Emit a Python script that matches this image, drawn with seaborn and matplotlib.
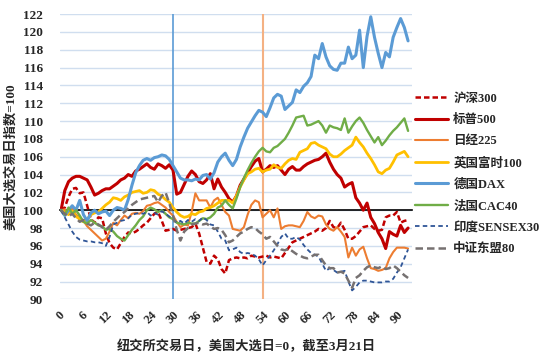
import matplotlib
matplotlib.use('Agg')
import matplotlib.pyplot as plt
import seaborn as sns

days = list(range(94))

hs300 = [100.0, 100.3, 101.5, 102.4, 102.5, 101.9, 102.0, 100.5, 99.0, 98.6,
         99.2, 99.1, 97.4, 96.3, 95.8, 95.6, 96.3, 97.0, 97.5, 97.4,
         97.6, 97.9, 98.3, 98.6, 99.1, 99.6, 99.8, 98.8, 97.7, 97.8,
         97.9, 97.7, 97.8, 97.9, 98.0, 98.1, 98.5, 97.4, 95.8, 94.2,
         94.0, 94.9, 94.5, 93.4, 92.9, 94.4, 94.6, 94.7, 94.6, 94.7,
         94.6, 94.9, 94.8, 94.7, 94.8, 94.9, 94.7, 94.8, 94.7, 94.6,
         95.2, 95.8, 96.4, 96.6, 96.8, 97.0, 97.2, 97.4, 97.6, 97.9,
         97.7, 98.0, 98.8, 98.1, 98.0, 98.6, 97.8, 96.8, 96.8, 97.1,
         97.6, 98.1, 98.2, 98.3, 97.9, 97.7, 97.8, 99.2, 99.4, 99.4,
         99.8, 98.6, 98.8, 98.9]

sp500 = [100.0, 102.2, 103.2, 103.6, 103.8, 103.8, 103.6, 103.4, 102.6, 101.7,
         101.9, 102.2, 102.4, 102.4, 102.7, 103.0, 103.4, 103.6, 104.0, 103.8,
         104.4, 104.6, 104.9, 105.2, 104.8, 104.6, 105.2, 105.0, 104.7, 105.1,
         104.5, 101.8, 102.0, 102.9, 103.8, 104.4, 104.0, 103.2, 103.0, 103.4,
         104.1, 102.4, 103.5, 102.6, 102.0, 101.3, 100.9, 101.6, 102.8, 103.5,
         104.2, 104.9, 105.5, 105.8, 104.3, 104.6, 105.0, 104.8, 105.0, 104.5,
         104.0, 104.6, 104.9, 104.5, 104.5, 104.9, 105.2, 105.4, 105.6, 105.7,
         106.0, 106.4, 105.4, 104.6, 104.0, 103.6, 102.6, 102.9, 103.1, 101.4,
         100.8, 100.0, 100.8, 99.2, 98.5, 97.5, 96.8, 95.7, 97.6, 97.3,
         97.1, 98.3, 97.5, 98.0]

nikkei = [100.0, 100.1, 99.6, 100.2, 99.5, 99.2, 98.8, 98.2, 97.8, 97.4,
          97.0, 96.6, 96.8, 97.6, 98.6, 98.3, 98.9, 99.4, 99.1, 99.6,
          99.7, 99.6, 99.9, 100.5, 100.6, 100.8, 100.9, 100.6, 100.3, 99.8,
          99.4, 98.7, 98.1, 98.4, 98.3, 99.8, 101.9, 101.1, 101.1, 101.1,
          100.3, 101.1, 101.4, 100.6, 99.8, 99.4, 97.9, 97.8, 97.7, 98.1,
          99.5, 100.6, 101.1, 100.9, 99.2, 99.6, 100.0, 99.2, 100.2, 97.9,
          98.2, 98.3, 98.3, 98.2, 98.1, 98.8, 99.8, 99.3, 99.1, 99.4,
          99.3, 98.4, 97.9, 97.7, 98.1, 97.6, 97.0, 94.7, 95.8, 94.9,
          95.6, 95.9, 94.6, 93.5, 93.4, 93.2, 93.3, 93.5, 94.6, 95.3,
          95.8, 95.8, 95.8, 95.7]

ftse100 = [100.0, 99.8, 99.5, 99.9, 99.3, 99.0, 98.7, 99.0, 99.5, 99.7,
           99.8, 100.2, 100.6, 100.9, 101.4, 101.3, 101.1, 101.5, 101.7, 102.0,
           102.1, 102.2, 101.9, 102.0, 102.3, 102.2, 101.8, 101.6, 101.2, 100.9,
           100.3, 99.8, 99.4, 99.2, 99.3, 99.6, 99.5, 99.8, 99.9, 100.2,
           100.3, 100.5, 100.8, 101.1, 101.1, 101.1, 100.8, 101.6, 102.6, 103.4,
           104.1, 104.3, 104.6, 104.7, 104.3, 104.5, 104.6, 105.1, 104.8, 104.7,
           105.2, 105.6, 105.8, 105.7, 106.5, 106.7, 106.9, 107.5, 107.6, 107.3,
           107.1, 106.9, 106.3, 106.0, 106.0, 106.3, 106.7, 107.0, 107.3, 108.2,
           107.6, 107.1, 106.4, 105.8, 105.1, 104.3, 104.1, 104.5, 104.7, 105.4,
           106.2, 106.4, 106.6, 106.0]

dax = [100.0, 99.4, 100.0, 100.5, 100.0, 101.1, 99.5, 98.8, 99.7, 100.0,
       99.6, 99.8, 99.9, 99.4, 100.0, 100.3, 100.2, 100.0, 101.2, 102.8,
       104.2, 105.0, 105.6, 105.8, 105.6, 105.9, 106.0, 106.2, 106.1, 105.7,
       105.0, 104.3, 103.6, 103.4, 103.4, 103.3, 103.5, 103.4, 103.9, 104.0,
       103.5, 104.2, 105.4, 106.0, 106.4, 105.6, 105.0, 105.7, 107.1, 108.2,
       109.2, 109.9, 110.6, 111.2, 111.0, 110.5, 111.5, 112.6, 113.0, 112.8,
       111.3, 111.7, 112.1, 113.5, 113.2, 113.9, 114.3, 115.0, 117.4, 117.0,
       118.7, 117.2, 116.2, 115.8, 115.7, 116.5, 116.5, 118.3, 117.0, 117.4,
       120.2, 116.0, 119.5, 121.7, 119.4, 117.6, 116.0, 117.7, 117.2, 119.4,
       120.5, 121.5, 120.5, 119.0]

cac40 = [100.0, 99.5, 100.3, 99.6, 100.0, 99.4, 98.7, 98.5, 98.9, 98.6,
         98.3, 98.2, 97.8, 97.9, 97.6, 97.1, 96.8, 96.6, 97.2, 97.8,
         98.3, 98.9, 99.3, 100.0, 100.3, 100.1, 99.8, 100.0, 99.6, 99.2,
         99.0, 98.6, 98.5, 98.4, 98.6, 98.5, 98.5, 98.8, 99.1, 99.0,
         99.2, 99.6, 100.3, 100.5, 101.1, 100.6, 100.2, 101.3, 102.6, 103.6,
         104.5, 105.3, 106.0, 106.6, 107.0, 106.6, 106.5, 107.0, 107.2, 107.6,
         108.0, 108.7, 109.5, 110.4, 110.5, 110.6, 109.5, 109.6, 109.8, 110.0,
         109.5, 108.7, 109.5, 109.3, 109.2, 109.0, 110.3, 108.7, 109.4, 110.0,
         110.4, 109.8, 109.0, 108.3, 107.6, 108.2, 107.3, 107.8, 108.4, 108.9,
         109.3, 109.8, 110.3, 108.9]

sensex30 = [100.0, 99.2, 98.4, 97.6, 97.0, 96.7, 96.6, 96.5, 96.5, 96.4,
            96.4, 96.3, 96.0, 97.0, 98.4, 98.6, 98.8, 98.9, 99.1, 99.5,
            99.6, 99.7, 99.6, 99.8, 99.4, 99.7, 99.5, 99.9, 99.6, 99.3,
            99.0, 98.6, 98.8, 98.5, 98.9, 98.7, 99.0, 98.8, 99.2, 98.9,
            98.4, 98.3, 97.6, 96.8, 96.6, 95.5, 95.6, 95.8, 95.3, 95.1,
            95.2, 95.1, 94.9, 94.5, 93.8, 94.4, 94.9, 95.5, 96.2, 97.0,
            97.4, 96.8, 96.8, 97.0, 96.7, 96.1, 95.6, 95.2, 95.0, 94.8,
            94.0, 93.2, 93.5, 93.3, 93.0, 93.1, 93.2, 92.0, 91.0, 91.4,
            91.9, 92.1, 92.1, 92.0, 91.9, 91.9, 91.9, 92.0, 92.0, 92.3,
            93.0, 93.6, 94.6, 95.6]

asean80 = [100.0, 99.6, 99.3, 99.6, 99.1, 98.7, 98.9, 98.5, 98.3, 98.6,
           98.4, 98.1, 97.8, 98.2, 98.7, 99.1, 99.5, 99.8, 100.2, 100.6,
           100.9, 101.2, 101.3, 101.4, 101.5, 101.6, 100.9, 101.6, 102.0, 100.8,
           99.4, 97.8, 96.6, 97.6, 98.0, 98.4, 98.5, 98.6, 98.4, 98.5,
           98.2, 97.9, 98.0, 97.8, 97.2, 96.4, 96.6, 97.0, 97.4, 97.6,
           97.9, 98.1, 98.0, 97.6, 97.3, 96.8, 97.0, 96.5, 96.0, 95.6,
           95.5, 95.7, 95.4, 95.1, 94.9, 94.7, 94.6, 94.8, 95.0, 95.0,
           94.4, 93.8, 93.5, 93.5, 93.0, 93.1, 92.9, 92.1, 91.3, 92.4,
           92.7, 93.2, 93.6, 93.8, 93.6, 93.5, 93.7, 93.4, 93.5, 93.8,
           93.5, 93.1, 92.7, 92.4]

names = ['沪深300', '标普500', '日经225', '英国富时100', '德国DAX',
         '法国CAC40', '印度SENSEX30', '中证东盟80']
series = [hs300, sp500, nikkei, ftse100, dax, cac40, sensex30, asean80]

# styles: color, linewidth, linestyle
styles = [
    ('#C00000', 1.8, (0, (2.2, 1.2))),
    ('#C00000', 2.2, '-'),
    ('#ED7D31', 1.5, '-'),
    ('#FFC000', 2.0, '-'),
    ('#5B9BD5', 2.2, '-'),
    ('#70AD47', 1.7, '-'),
    ('#2F5597', 1.3, (0, (2.5, 1.8))),
    ('#767171', 1.8, (0, (3.0, 1.6))),
]

sns.set_style('white')
plt.rcParams['font.family'] = ['Liberation Serif', 'Noto Sans CJK SC']
plt.rcParams['font.weight'] = 'bold'

fig = plt.figure(figsize=(5.55, 3.53), dpi=100)
ax = fig.add_axes([0.108, 0.152, 0.634, 0.808])

for yv in range(90, 123, 2):
    ax.axhline(yv, color='#D0DEEF', lw=1.0, zorder=0)

ax.axvline(30, color='#5B9BD5', lw=1.2, zorder=1)
ax.axvline(54, color='#F4B183', lw=1.5, zorder=1)

for name, vals, (c, w, ls) in zip(names, series, styles):
    sns.lineplot(x=days, y=vals, ax=ax, color=c, lw=w, linestyle=ls,
                 label=name, zorder=3)

ax.set_xlim(-0.3, 94)
ax.set_ylim(90, 122)
ax.set_yticks(range(90, 123, 2))
ax.tick_params(axis='y', length=0, pad=12, labelsize=9.5)

# category axis crossing at 100 with a tick per trading day
for s in ['top', 'right', 'left']:
    ax.spines[s].set_visible(False)
ax.spines['bottom'].set_position(('data', 100))
ax.spines['bottom'].set_color('black')
ax.spines['bottom'].set_linewidth(1.2)
ax.spines['bottom'].set_zorder(2)
ax.set_xticks(days)
ax.tick_params(axis='x', direction='out', length=3, width=0.8,
               color='black', labelbottom=False)

sec = ax.secondary_xaxis(0.0)
sec.set_xticks(range(0, 91, 6))
sec.tick_params(length=0, pad=7, labelsize=9)
for lab in sec.get_xticklabels():
    lab.set_rotation(45)
sec.spines['bottom'].set_visible(False)
sec.set_xlabel('纽交所交易日，美国大选日=0，截至3月21日', fontsize=9.5,
               fontweight='bold', labelpad=10, x=0.53)

ax.set_ylabel('美国大选交易日指数=100', fontsize=9.5, fontweight='bold',
              labelpad=4)
ax.set_xlabel('')

ax.legend(loc='upper left', bbox_to_anchor=(0.748, 0.738),
          bbox_transform=fig.transFigure, frameon=False, fontsize=9,
          handlelength=2.6, handletextpad=0.45, labelspacing=0.75,
          borderpad=0, borderaxespad=0)

plt.savefig('out.png', dpi=100)
